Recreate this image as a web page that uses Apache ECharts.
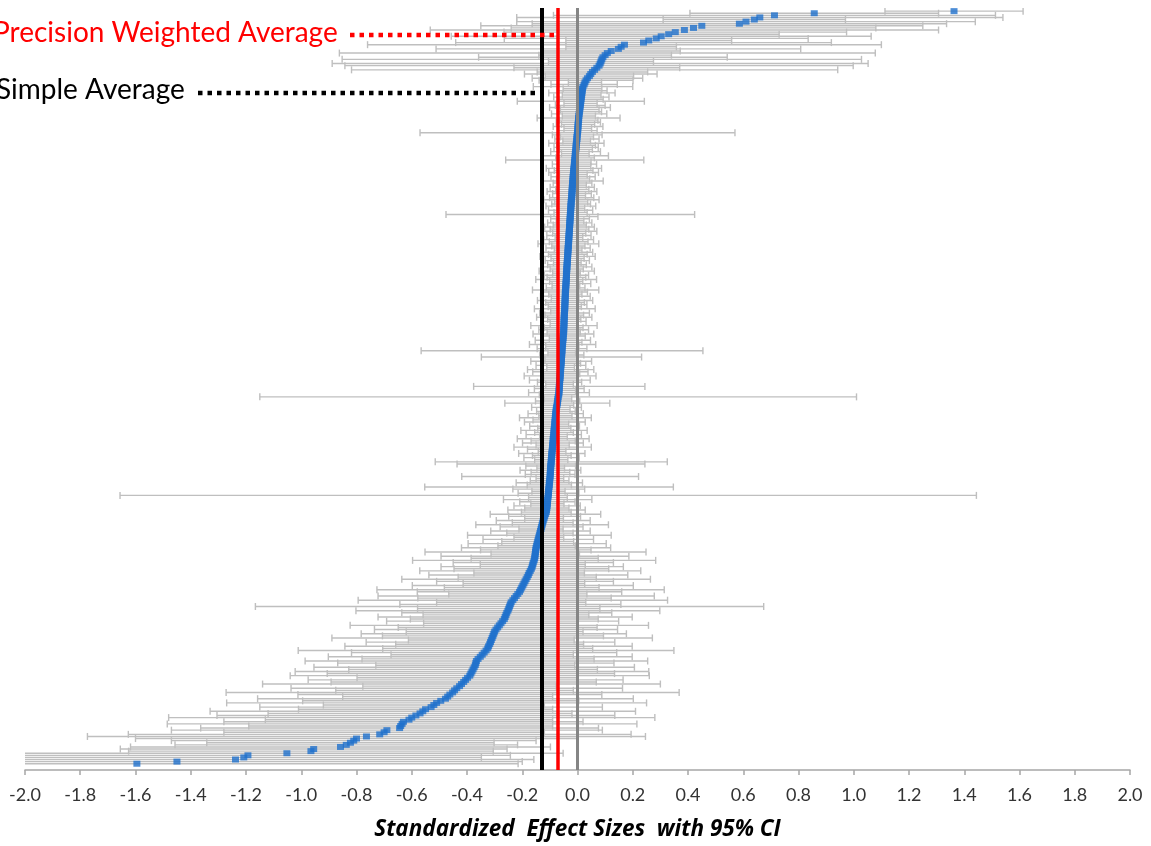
<!DOCTYPE html>
<html>
<head>
<meta charset="utf-8">
<script src="https://cdn.jsdelivr.net/npm/echarts@6/dist/echarts.min.js"></script>
<style>
html,body{margin:0;padding:0;background:#fff;}
#chart{width:1151px;height:846px;}
</style>
</head>
<body>
<div id="chart"></div>
<script>
// Study effect sizes, sorted from most negative (bottom row) to most positive (top row)
const effects = [
-1.595,-1.45,-1.238,-1.208,-1.193,-1.052,-0.965,-0.955,-0.858,-0.837,-0.822,-0.81,-0.80,-0.764,-0.716,-0.70,-0.69,-0.644,-0.64,-0.635,-0.63,
-0.61,-0.60,-0.585,-0.57,-0.56,-0.55,-0.53,-0.52,-0.51,-0.495,-0.478,-0.47,-0.462,-0.452,-0.445,-0.437,-0.427,-0.42,-0.412,-0.405,-0.398,-0.39,
-0.386,-0.382,-0.378,-0.374,-0.37,-0.368,-0.366,-0.36,-0.352,-0.345,-0.338,-0.331,-0.325,
-0.322,-0.318,-0.315,-0.312,-0.309,-0.306,-0.303,-0.30,
-0.295,-0.289,-0.283,-0.277,-0.271,-0.265,
-0.262,-0.259,-0.256,-0.252,-0.249,-0.246,-0.243,-0.24,
-0.234,-0.228,-0.222,-0.216,-0.21,
-0.206,-0.202,-0.198,-0.194,-0.19,-0.186,-0.182,-0.178,-0.175,-0.171,-0.167,
-0.164,-0.162,-0.16,-0.157,-0.155,
-0.154,-0.153,-0.152,-0.151,-0.15,-0.148,
-0.146,-0.144,-0.142,-0.14,-0.138,-0.136,-0.134,-0.132,-0.13,-0.128,
-0.126,-0.124,-0.121,-0.119,-0.116,-0.113,
-0.112,-0.111,-0.11,-0.109,-0.109,-0.108,-0.107,-0.106,-0.105,-0.105,-0.104,-0.103,-0.102,-0.102,-0.101,-0.1,
-0.099,-0.099,-0.098,-0.098,-0.097,-0.097,-0.096,-0.095,-0.095,-0.094,-0.093,-0.093,-0.092,-0.091,-0.09,-0.09,
-0.089,-0.088,-0.088,-0.087,-0.086,-0.085,-0.085,-0.084,-0.083,-0.082,-0.082,-0.081,-0.08,-0.08,-0.079,-0.078,
-0.077,-0.076,-0.074,-0.073,-0.072,-0.071,-0.07,-0.068,-0.067,
-0.067,-0.066,-0.066,-0.065,-0.065,-0.064,-0.063,-0.063,-0.062,-0.062,-0.061,-0.061,-0.06,
-0.059,-0.059,-0.058,-0.058,-0.057,-0.057,-0.056,-0.056,-0.055,-0.054,-0.054,-0.053,-0.052,-0.052,-0.051,-0.05,
-0.05,-0.05,-0.049,-0.049,-0.049,-0.048,-0.048,-0.048,-0.047,-0.047,-0.046,-0.046,-0.046,-0.045,-0.045,
-0.045,-0.044,-0.044,-0.044,-0.043,-0.043,-0.042,-0.042,-0.041,-0.041,-0.04,-0.04,-0.04,-0.039,-0.039,-0.038,
-0.038,-0.037,-0.037,-0.036,-0.036,-0.035,-0.035,-0.034,-0.034,-0.033,-0.033,-0.032,-0.032,-0.031,-0.031,-0.03,
-0.03,-0.029,-0.029,-0.028,-0.028,-0.027,-0.027,-0.026,-0.026,-0.025,-0.025,-0.024,-0.024,-0.023,-0.023,-0.022,
-0.021,-0.021,-0.02,-0.02,-0.019,-0.019,-0.018,-0.018,-0.017,-0.016,-0.016,-0.015,-0.014,-0.014,-0.013,-0.012,
-0.011,-0.011,-0.01,-0.009,-0.008,-0.008,-0.007,-0.006,-0.005,-0.005,-0.004,-0.003,-0.002,-0.002,-0.001,0.0,
0.001,0.001,0.002,0.002,0.003,0.004,0.004,0.005,0.006,0.007,0.008,0.009,0.01,0.011,0.012,0.013,0.014,0.015,0.016,0.017,0.018,0.02,
0.024,0.027,0.031,0.036,0.043,0.048,0.054,0.062,0.07,0.078,0.082,0.085,0.088,0.092,0.1,0.108,0.122,0.148,0.158,0.17,
0.239,0.258,0.285,0.303,0.33,0.354,0.387,0.42,0.45,0.586,0.61,0.64,0.66,0.713,0.857,1.363
];
// Half-width of each study's 95% CI (same order)
const ciHalf = [
1.38,1.25,1.08,0.86,0.95,1.00,0.66,0.70,0.76,0.62,0.52,0.66,0.80,1.01,0.91,0.58,0.78,0.72,0.55,0.85,0.65,
0.52,0.88,0.72,0.55,0.77,0.46,0.62,0.40,0.76,0.50,0.68,0.38,0.55,0.82,0.43,0.60,0.35,0.72,0.48,0.57,0.40,0.65,
0.52,0.64,0.45,0.58,0.36,0.50,0.62,0.42,0.55,0.33,0.48,0.68,0.38,
0.52,0.34,0.45,0.30,0.58,0.40,0.48,0.32,
0.44,0.36,0.54,0.28,0.42,0.34,
0.46,0.30,0.38,0.55,0.33,0.92,0.40,0.27,
0.56,0.35,0.50,0.25,0.37,
0.52,0.28,0.40,0.22,0.32,0.45,0.25,0.36,0.20,0.40,0.28,
0.33,0.19,0.29,0.44,0.23,
0.34,0.16,0.40,0.20,0.27,0.14,
0.25,0.13,0.20,0.09,0.26,0.12,0.18,0.08,0.15,0.24,
0.11,0.17,0.07,0.13,0.20,0.09,
0.14,0.08,0.12,0.06,0.10,0.16,0.07,1.55,0.11,0.06,0.13,0.45,0.08,0.12,0.07,0.05,
0.32,0.09,0.07,0.11,0.05,0.09,0.34,0.42,0.06,0.10,0.07,0.12,0.05,0.09,0.14,0.06,
0.11,0.08,0.13,0.05,0.10,0.07,0.12,0.06,0.09,0.05,0.11,0.08,0.13,0.06,0.10,0.07,
0.05,0.09,0.06,0.19,0.08,0.05,1.08,0.07,0.11,
0.06,0.09,0.31,0.05,0.08,0.11,0.06,0.13,0.07,0.10,0.12,0.05,0.09,
0.07,0.11,0.06,0.29,0.08,0.05,0.51,0.09,0.06,0.12,0.07,0.10,0.05,0.08,0.11,0.06,
0.09,0.07,0.12,0.05,0.08,0.06,0.10,0.07,0.09,0.05,0.11,0.06,0.08,0.07,0.10,
0.05,0.09,0.06,0.08,0.12,0.07,0.05,0.09,0.06,0.11,0.07,0.08,0.05,0.10,0.06,0.09,
0.07,0.05,0.08,0.06,0.10,0.07,0.09,0.05,0.08,0.06,0.11,0.07,0.09,0.05,0.08,0.06,
0.10,0.07,0.09,0.06,0.08,0.05,0.07,0.10,0.45,0.06,0.08,0.05,0.09,0.07,0.06,0.10,
0.08,0.05,0.07,0.09,0.06,0.08,0.05,0.07,0.11,0.06,0.08,0.05,0.09,0.07,0.10,0.06,
0.08,0.06,0.25,0.07,0.12,0.05,0.09,0.06,0.08,0.07,0.10,0.05,0.08,0.06,0.09,0.57,
0.07,0.05,0.09,0.06,0.08,0.07,0.15,0.06,0.10,0.08,0.07,0.11,0.09,0.06,0.23,0.08,0.10,0.07,0.12,0.09,0.07,0.18,
0.12,0.06,0.17,0.20,0.16,0.24,0.20,0.88,0.30,0.92,0.97,0.19,0.94,0.45,0.24,0.97,0.25,0.66,0.20,0.93,
0.68,0.30,0.55,0.76,0.40,0.62,0.92,0.66,0.80,0.75,0.83,0.33,0.88,0.80,0.45,0.25
];
const simpleAverage = -0.13;
const weightedAverage = -0.065;
const xTicks = ['-2.0','-1.8','-1.6','-1.4','-1.2','-1.0','-0.8','-0.6','-0.4','-0.2','0.0','0.2','0.4','0.6','0.8','1.0','1.2','1.4','1.6','1.8','2.0'];
const axisTitle = 'Standardized  Effect Sizes  with 95% CI';
const labelWeighted = 'Precision Weighted Average';
const labelSimple = 'Simple Average';

const N = effects.length;
const barData = effects.map((e, i) => [e - ciHalf[i], e + ciHalf[i], i]);
const pointData = effects.map((e, i) => [e, i]);

const chart = echarts.init(document.getElementById('chart'), null, {renderer: 'canvas'});
const FONT = 'Lato';
const option = {
  animation: false,
  backgroundColor: '#ffffff',
  grid: {left: 25, right: 21, top: 8, bottom: 74, containLabel: false},
  xAxis: {
    type: 'value', min: -2, max: 2, interval: 0.2,
    axisLine: {show: true, onZero: false, lineStyle: {color: '#a6a6a6', width: 1.5}},
    axisTick: {show: true, length: 5, lineStyle: {color: '#a6a6a6', width: 1.5}},
    splitLine: {show: false},
    axisLabel: {
      fontFamily: FONT, fontSize: 18, color: '#333333', margin: 16,
      formatter: v => xTicks[Math.round((v + 2) / 0.2)]
    },
    name: axisTitle, nameLocation: 'middle', nameGap: 48,
    nameTextStyle: {fontFamily: 'Open Sans', fontSize: 22.5, fontWeight: 'bold', fontStyle: 'italic', color: '#000'}
  },
  yAxis: {type: 'value', min: -3, max: N + 0.5, show: false},
  series: [
    {
      type: 'custom', z: 1, clip: true,
      data: barData,
      encode: {x: [0, 1], y: 2},
      renderItem: function (params, api) {
        const lo = api.coord([api.value(0), api.value(2)]);
        const hi = api.coord([api.value(1), api.value(2)]);
        const c = 3.5;
        const st = {stroke: '#bfbfbf', lineWidth: 1.4};
        return {type: 'group', children: [
          {type: 'line', shape: {x1: lo[0], y1: lo[1], x2: hi[0], y2: hi[1]}, style: st},
          {type: 'line', shape: {x1: lo[0], y1: lo[1] - c, x2: lo[0], y2: lo[1] + c}, style: st},
          {type: 'line', shape: {x1: hi[0], y1: hi[1] - c, x2: hi[0], y2: hi[1] + c}, style: st}
        ]};
      }
    },
    {
      type: 'line', z: 2, data: [], silent: true,
      markLine: {
        silent: true, symbol: 'none', label: {show: false},
        data: [
          {xAxis: 0, lineStyle: {color: '#858585', width: 3, type: 'solid'}},
          {xAxis: simpleAverage, lineStyle: {color: '#000000', width: 4, type: 'solid'}},
          {xAxis: weightedAverage, lineStyle: {color: '#ff0000', width: 3.5, type: 'solid'}}
        ]
      }
    },
    {
      type: 'scatter', z: 3, silent: true,
      symbol: 'rect', symbolSize: [7, 6],
      itemStyle: {color: '#1f70cc'},
      data: pointData
    }
  ]
};
chart.setOption(option);

const xRed = chart.convertToPixel({xAxisIndex: 0}, weightedAverage);
const xBlack = chart.convertToPixel({xAxisIndex: 0}, simpleAverage);
chart.setOption({
  graphic: [
    {type: 'text', x: -7, y: 33, z: 10,
      style: {text: labelWeighted, fill: '#ff0000', font: '28px ' + FONT, verticalAlign: 'middle', align: 'left'}},
    {type: 'text', x: -4, y: 90, z: 10,
      style: {text: labelSimple, fill: '#000000', font: '28px ' + FONT, verticalAlign: 'middle', align: 'left'}},
    {type: 'line', z: 10, shape: {x1: 350, y1: 35, x2: xRed - 1, y2: 35},
      style: {stroke: '#ff0000', lineWidth: 4.5, lineDash: [4.5, 5]}},
    {type: 'line', z: 10, shape: {x1: 198, y1: 93, x2: xBlack - 1, y2: 93},
      style: {stroke: '#000000', lineWidth: 4.5, lineDash: [4.5, 5]}}
  ]
});
</script>
</body>
</html>
